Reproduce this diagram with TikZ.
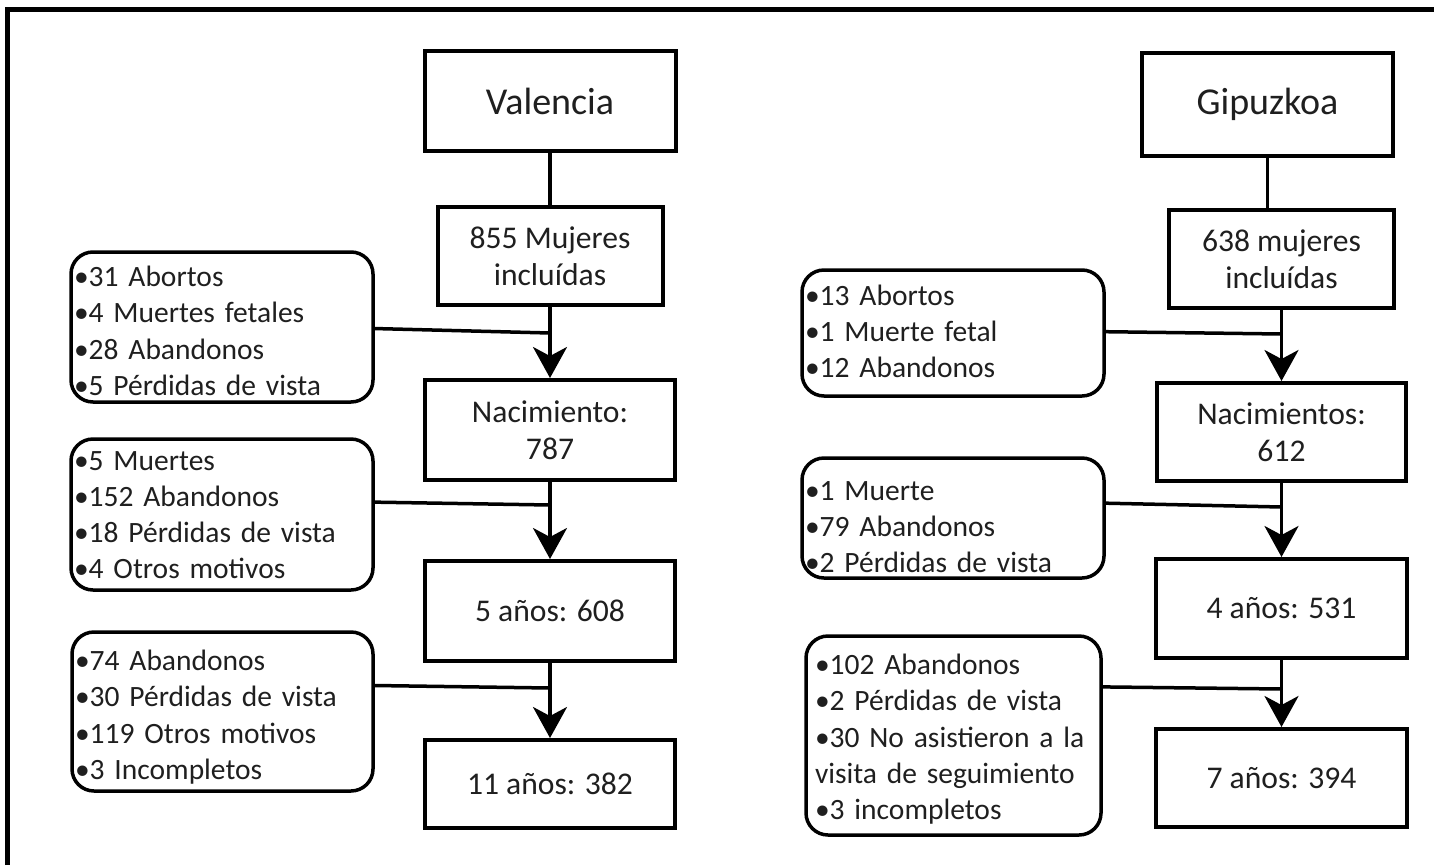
\documentclass[tikz,border=0pt]{standalone}
\usepackage{fontspec}
\setmainfont{Carlito}
\usetikzlibrary{arrows.meta,calc}
\def\sidetop{28pt}
\def\sidebot{0pt}
\begin{document}
\begin{tikzpicture}[x=1pt,y=-1pt,
  strtop/.code={\def\sidetop{#1}},
  strbot/.code={\def\sidebot{#1}},
  box/.style={draw, line width=4pt, align=center, inner sep=0pt, font=\fontsize{31.6}{37.5}\selectfont, text=black!88},
  title/.style={box, font=\fontsize{38}{42}\selectfont},
  side/.style={draw, line width=3.5pt, rounded corners=22pt, align=left, inner xsep=3pt, inner ysep=0pt, font=\fontsize{29.5}{36.3}\selectfont, text=black!88, execute at begin node={\rule{0pt}{\sidetop}}, execute at end node={\rule[-\sidebot]{0pt}{\sidebot}}},
  conn/.style={line width=3.5pt},
  arr/.style={line width=3.5pt, -{Stealth[length=31pt,width=34pt,inset=9pt]}}]
\useasboundingbox (0,0) rectangle (1434,865);
\draw[line width=5pt] (7.5,865) -- (7.5,9.5) -- (1434,9.5);

% left column
\node[title, minimum width=251pt, minimum height=100pt] (val) at (550,101) {Valencia};
\node[box, minimum width=225pt, minimum height=98pt] (v1) at (550,256) {855 Mujeres\\incluídas};
\node[box, minimum width=250pt, minimum height=100pt] (v2) at (550,430) {Nacimiento:\\787};
\node[box, minimum width=250pt, minimum height=100pt] (v3) at (550,611) {5 años: 608};
\node[box, minimum width=250pt, minimum height=88pt] (v4) at (550,784) {11 años: 382};

\node[side, text width=296pt, minimum height=150pt] (l1) at (222,327) {•31 Abortos\\•4 Muertes fetales\\•28 Abandonos\\•5 Pérdidas de vista};
\node[side, strbot=8pt, text width=296pt, minimum height=151pt] (l2) at (222,514.5) {•5 Muertes\\•152 Abandonos\\•18 Pérdidas de vista\\•4 Otros motivos};
\node[side, strtop=32pt, text width=295pt, minimum height=159pt] (l3) at (222.5,711.5) {•74 Abandonos\\•30 Pérdidas de vista\\•119 Otros motivos\\•3 Incompletos};

\draw[conn] (val.south) -- (val.south |- v1.north);
\draw[arr] (v1.south) -- (v2.north);
\draw[arr] (v2.south) -- (v3.north);
\draw[arr] (v3.south) -- (v4.north);

\coordinate (j1) at (550,333);
\coordinate (j2) at (550,505);
\coordinate (j3) at (550,688);
\draw[conn] ($(l1.north east)!0.51!(l1.south east)$) -- (j1);
\draw[conn] ($(l2.north east)!0.42!(l2.south east)$) -- (j2);
\draw[conn] ($(l3.north east)!0.34!(l3.south east)$) -- (j3);

% right column
\node[title, minimum width=251pt, minimum height=103pt] (gip) at (1267.5,104) {Gipuzkoa};
\node[box, minimum width=225pt, minimum height=98pt] (g1) at (1281.5,259) {638 mujeres\\incluídas};
\node[box, minimum width=249pt, minimum height=98pt] (g2) at (1281.5,432) {Nacimientos:\\612};
\node[box, minimum width=251pt, minimum height=99pt] (g3) at (1281.5,608.5) {4 años: 531};
\node[box, minimum width=251pt, minimum height=98pt] (g4) at (1281.5,778) {7 años: 394};

\node[side, strbot=11pt, text width=296pt, minimum height=126pt] (r1) at (953,333) {•13 Abortos\\•1 Muerte fetal\\•12 Abandonos};
\node[side, strtop=37pt, text width=296pt, minimum height=120pt] (r2) at (953,518) {•1 Muerte\\•79 Abandonos\\•2 Pérdidas de vista};
\node[side, inner xsep=9pt, text width=277pt, minimum height=199pt] (r3) at (953.5,735.5) {•102 Abandonos\\•2 Pérdidas de vista\\•30 No asistieron a la\\visita de seguimiento\\•3 incompletos};

\draw[conn] (gip.south) -- (gip.south |- g1.north);
\draw[arr] (g1.south) -- (g2.north);
\draw[arr] (g2.south) -- (g3.north);
\draw[arr] (g3.south) -- (g4.north);

\coordinate (k1) at (1281.5,334);
\coordinate (k2) at (1281.5,507);
\coordinate (k3) at (1281.5,689);
\draw[conn] ($(r1.north east)!0.49!(r1.south east)$) -- (k1);
\draw[conn] ($(r2.north east)!0.38!(r2.south east)$) -- (k2);
\draw[conn] ($(r3.north east)!0.26!(r3.south east)$) -- (k3);
\end{tikzpicture}
\end{document}
